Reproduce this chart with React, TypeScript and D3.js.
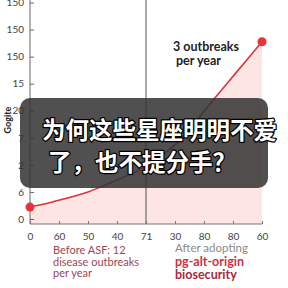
import { useEffect, useRef } from "react";
import * as d3 from "d3";

// tick labels as printed in the picture (they are not monotonic)
const xTickLabels = ["0", "60", "50", "40", "71", "30", "80", "80", "60"];
const yTickLabels = ["0", "6", "2", "7", "20", "15", "150", "150", "150"];

// outbreak curve, in tick-index units
const curveX = [0, 0.8, 2, 2.9, 4.1, 5.2, 6.2, 7.1, 8];
const curveY = [0.44, 0.64, 1.0, 1.4, 2.0, 2.95, 4.25, 5.4, 6.55];

const beforeLines = ["Before ASF: 12", "disease outbreaks", "per year"];
const afterLines = ["After adopting", "pg-alt-origin", "biosecurity"];
const captionLines = ["为何这些星座明明不爱", "了，也不提分手？"];

const App = () => {
  const svgRef = useRef<SVGSVGElement>(null);

  useEffect(() => {
    const svg = d3.select(svgRef.current);
    svg.selectAll("*").remove();

    const x = d3.scaleLinear().domain([0, 8]).range([30, 262]);
    const y = d3.scaleLinear().domain([0, 8]).range([219, 2.5]);
    const baseY = 224;

    const pts: [number, number][] = curveX.map((v, i) => [v, curveY[i]]);

    const area = d3.area<[number, number]>()
      .x(d => x(d[0]))
      .y0(baseY)
      .y1(d => y(d[1]))
      .curve(d3.curveCatmullRom);
    svg.append("path").attr("d", area(pts)).attr("fill", "#fde5e3");

    const line = d3.line<[number, number]>()
      .x(d => x(d[0]))
      .y(d => y(d[1]))
      .curve(d3.curveCatmullRom);
    svg.append("path").attr("d", line(pts)).attr("fill", "none")
      .attr("stroke", "#d8363f").attr("stroke-width", 1.6);

    // divider
    svg.append("line").attr("x1", x(4)).attr("x2", x(4)).attr("y1", 0).attr("y2", baseY)
      .attr("stroke", "#555").attr("stroke-width", 1);

    // y axis
    const yAxis = d3.axisRight(y)
      .tickValues(d3.range(9))
      .tickFormat(i => yTickLabels[i as number])
      .tickSize(4);
    const yg = svg.append("g").attr("transform", "translate(30,0)").call(yAxis);
    yg.select(".domain").remove();
    yg.selectAll("line").attr("stroke", "#666");
    yg.selectAll("text").attr("text-anchor", "end").attr("x", -6)
      .attr("font-family", "Lato, sans-serif").attr("font-size", 10).attr("fill", "#444");
    svg.append("line").attr("x1", 30).attr("x2", 30).attr("y1", 0).attr("y2", baseY)
      .attr("stroke", "#666");

    // x axis
    const xAxis = d3.axisBottom(x)
      .tickValues(d3.range(9))
      .tickFormat(i => xTickLabels[i as number])
      .tickSize(-3)
      .tickPadding(9);
    const xg = svg.append("g").attr("transform", `translate(0,${baseY})`).call(xAxis);
    xg.select(".domain").attr("d", `M30,0H${x(8)}`).attr("stroke", "#777");
    xg.selectAll("line").attr("stroke", "#777");
    xg.selectAll("text").attr("font-family", "Lato, sans-serif").attr("font-size", 10).attr("fill", "#444");

    // end dots
    [pts[0], pts[pts.length - 1]].forEach(d => {
      svg.append("circle").attr("cx", x(d[0])).attr("cy", y(d[1])).attr("r", 4.5).attr("fill", "#e8333d");
    });

    svg.append("text").attr("transform", "translate(11,120) rotate(-90)")
      .attr("text-anchor", "middle").attr("font-family", "Lato, sans-serif")
      .attr("font-weight", "bold").attr("font-size", 9).attr("fill", "#222").text("Gogite");

    const ann = svg.append("text").attr("font-family", "Lato, sans-serif").attr("font-weight", "bold")
      .attr("font-size", 12.5).attr("fill", "#222");
    ann.append("tspan").attr("x", 173).attr("y", 51).text("3 outbreaks");
    ann.append("tspan").attr("x", 176).attr("y", 65).text("per year");

    const before = svg.append("text").attr("font-family", "Lato, sans-serif")
      .attr("font-size", 11).attr("fill", "#9c4656");
    beforeLines.forEach((t, i) => before.append("tspan").attr("x", 53).attr("y", 254 + i * 11.5).text(t));

    const after = svg.append("g").attr("font-family", "Lato, sans-serif");
    after.append("text").attr("x", 175).attr("y", 252).attr("font-size", 11.5).attr("fill", "#8a8a8a").text(afterLines[0]);
    after.append("text").attr("x", 175).attr("y", 265.5).attr("font-size", 12.5).attr("font-weight", "bold")
      .attr("fill", "#d0303f").text(afterLines[1]);
    after.append("text").attr("x", 175).attr("y", 279).attr("font-size", 12.5).attr("font-weight", "bold")
      .attr("fill", "#a8283a").text(afterLines[2]);

    // caption overlay
    svg.append("rect").attr("x", 20).attr("y", 98).attr("width", 248).attr("height", 90).attr("rx", 10)
      .attr("fill", "#333").attr("opacity", 0.86);
    const cap = svg.append("g").attr("font-family", "'Noto Sans CJK SC', sans-serif").attr("font-weight", "bold")
      .attr("font-size", 23.5).attr("fill", "#fff").attr("stroke", "#000").attr("stroke-width", 2.5)
      .attr("paint-order", "stroke").attr("stroke-linejoin", "round");
    cap.append("text").attr("x", 42).attr("y", 139).text(captionLines[0]);
    cap.append("text").attr("x", 48).attr("y", 171).text(captionLines[1]);

    return () => { svg.selectAll("*").remove(); };
  }, []);

  return (
    <div style={{ position: "absolute", left: 0, top: 0 }}>
      <svg ref={svgRef} width={288} height={288} style={{ display: "block", background: "#fff" }}></svg>
    </div>
  );
};

export default App;
